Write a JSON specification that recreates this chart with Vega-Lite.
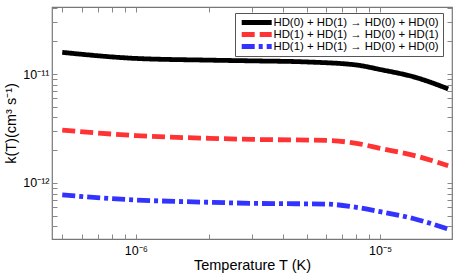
{
  "$schema": "https://vega.github.io/schema/vega-lite/v6.json",
  "width": 400,
  "height": 232,
  "autosize": {"type": "none"},
  "padding": {"left": 52, "top": 7, "right": 8, "bottom": 37},
  "background": "white",
  "config": {
    "font": "Liberation Sans",
    "view": {"stroke": "#777777", "strokeWidth": 1.2},
    "axis": {"grid": false, "domain": false, "tickColor": "#888888", "labelColor": "black", "titleColor": "black", "titleFontWeight": "normal", "labelFontSize": 12.5, "titleFontSize": 14.5},
    "legend": {"orient": "none", "legendX": 183, "legendY": 6, "strokeColor": "#555555", "padding": 4, "fillColor": "white", "clipHeight": 11,
      "labelFontSize": 11.4, "labelLimit": 300, "symbolType": "M-7.5,0H7.5", "symbolSize": 16, "symbolOffset": 12, "symbolStrokeWidth": 4.8, "rowPadding": 0, "labelOffset": 11, "symbolFillColor": "transparent"}
  },
  "data": {
    "values": [
      {"T": 5e-7, "k": 1.58e-11, "s": "HD(0) + HD(1) → HD(0) + HD(0)"},
      {"T": 1e-6, "k": 1.39e-11, "s": "HD(0) + HD(1) → HD(0) + HD(0)"},
      {"T": 2e-6, "k": 1.34e-11, "s": "HD(0) + HD(1) → HD(0) + HD(0)"},
      {"T": 3e-6, "k": 1.32e-11, "s": "HD(0) + HD(1) → HD(0) + HD(0)"},
      {"T": 5e-6, "k": 1.29e-11, "s": "HD(0) + HD(1) → HD(0) + HD(0)"},
      {"T": 8e-6, "k": 1.21e-11, "s": "HD(0) + HD(1) → HD(0) + HD(0)"},
      {"T": 1e-5, "k": 1.10e-11, "s": "HD(0) + HD(1) → HD(0) + HD(0)"},
      {"T": 1.4e-5, "k": 9.3e-12, "s": "HD(0) + HD(1) → HD(0) + HD(0)"},
      {"T": 1.9e-5, "k": 7.3e-12, "s": "HD(0) + HD(1) → HD(0) + HD(0)"},
      {"T": 5e-7, "k": 3.06e-12, "s": "HD(1) + HD(1) → HD(0) + HD(1)"},
      {"T": 1e-6, "k": 2.72e-12, "s": "HD(1) + HD(1) → HD(0) + HD(1)"},
      {"T": 2e-6, "k": 2.57e-12, "s": "HD(1) + HD(1) → HD(0) + HD(1)"},
      {"T": 3e-6, "k": 2.51e-12, "s": "HD(1) + HD(1) → HD(0) + HD(1)"},
      {"T": 6e-6, "k": 2.46e-12, "s": "HD(1) + HD(1) → HD(0) + HD(1)"},
      {"T": 8e-6, "k": 2.31e-12, "s": "HD(1) + HD(1) → HD(0) + HD(1)"},
      {"T": 1e-5, "k": 2.08e-12, "s": "HD(1) + HD(1) → HD(0) + HD(1)"},
      {"T": 1.4e-5, "k": 1.77e-12, "s": "HD(1) + HD(1) → HD(0) + HD(1)"},
      {"T": 1.9e-5, "k": 1.44e-12, "s": "HD(1) + HD(1) → HD(0) + HD(1)"},
      {"T": 5e-7, "k": 7.76e-13, "s": "HD(1) + HD(1) → HD(0) + HD(0)"},
      {"T": 1e-6, "k": 6.98e-13, "s": "HD(1) + HD(1) → HD(0) + HD(0)"},
      {"T": 2e-6, "k": 6.65e-13, "s": "HD(1) + HD(1) → HD(0) + HD(0)"},
      {"T": 3e-6, "k": 6.5e-13, "s": "HD(1) + HD(1) → HD(0) + HD(0)"},
      {"T": 6e-6, "k": 6.4e-13, "s": "HD(1) + HD(1) → HD(0) + HD(0)"},
      {"T": 8e-6, "k": 5.98e-13, "s": "HD(1) + HD(1) → HD(0) + HD(0)"},
      {"T": 1e-5, "k": 5.46e-13, "s": "HD(1) + HD(1) → HD(0) + HD(0)"},
      {"T": 1.4e-5, "k": 4.65e-13, "s": "HD(1) + HD(1) → HD(0) + HD(0)"},
      {"T": 1.9e-5, "k": 3.77e-13, "s": "HD(1) + HD(1) → HD(0) + HD(0)"}
    ]
  },
  "resolve": {"scale": {"x": "independent", "y": "independent"}, "axis": {"x": "independent", "y": "independent"}},
  "layer": [
    {
      "mark": {"type": "line", "interpolate": "monotone", "strokeWidth": 4.8, "clip": true},
      "encoding": {
        "x": {
          "field": "T", "type": "quantitative",
          "scale": {"type": "log", "domain": [4.54e-7, 1.97e-5], "nice": false},
          "axis": {"title": "Temperature T (K)", "tickSize": -5, "labelPadding": 10, "titlePadding": 2,
            "labelExpr": "datum.value == 1e-6 ? '10⁻⁶' : datum.value == 1e-5 ? '10⁻⁵' : ''"}
        },
        "y": {
          "field": "k", "type": "quantitative",
          "scale": {"type": "log", "domain": [3.06e-13, 4.12e-11], "nice": false},
          "axis": {"title": "k(T)(cm³ s⁻¹)", "tickSize": -5, "labelPadding": 8, "titlePadding": 4,
            "labelExpr": "datum.value == 1e-11 ? '10⁻¹¹' : datum.value == 1e-12 ? '10⁻¹²' : ''"}
        },
        "color": {
          "field": "s", "type": "nominal",
          "scale": {"domain": ["HD(0) + HD(1) → HD(0) + HD(0)", "HD(1) + HD(1) → HD(0) + HD(1)", "HD(1) + HD(1) → HD(0) + HD(0)"], "range": ["#000000", "#ff3333", "#3333ff"]},
          "legend": {"title": null}
        },
        "strokeDash": {
          "field": "s", "type": "nominal",
          "scale": {"domain": ["HD(0) + HD(1) → HD(0) + HD(0)", "HD(1) + HD(1) → HD(0) + HD(1)", "HD(1) + HD(1) → HD(0) + HD(0)"], "range": [[1, 0], [13, 5], [13, 4, 4, 4]]},
          "legend": {"title": null}
        }
      }
    },
    {
      "mark": {"type": "point", "opacity": 0},
      "encoding": {
        "x": {
          "field": "T", "type": "quantitative",
          "scale": {"type": "log", "domain": [4.54e-7, 1.97e-5], "nice": false},
          "axis": {"orient": "top", "title": null, "labels": false, "tickSize": -5}
        },
        "y": {
          "field": "k", "type": "quantitative",
          "scale": {"type": "log", "domain": [3.06e-13, 4.12e-11], "nice": false},
          "axis": {"orient": "right", "title": null, "labels": false, "tickSize": -5}
        }
      }
    }
  ]
}
